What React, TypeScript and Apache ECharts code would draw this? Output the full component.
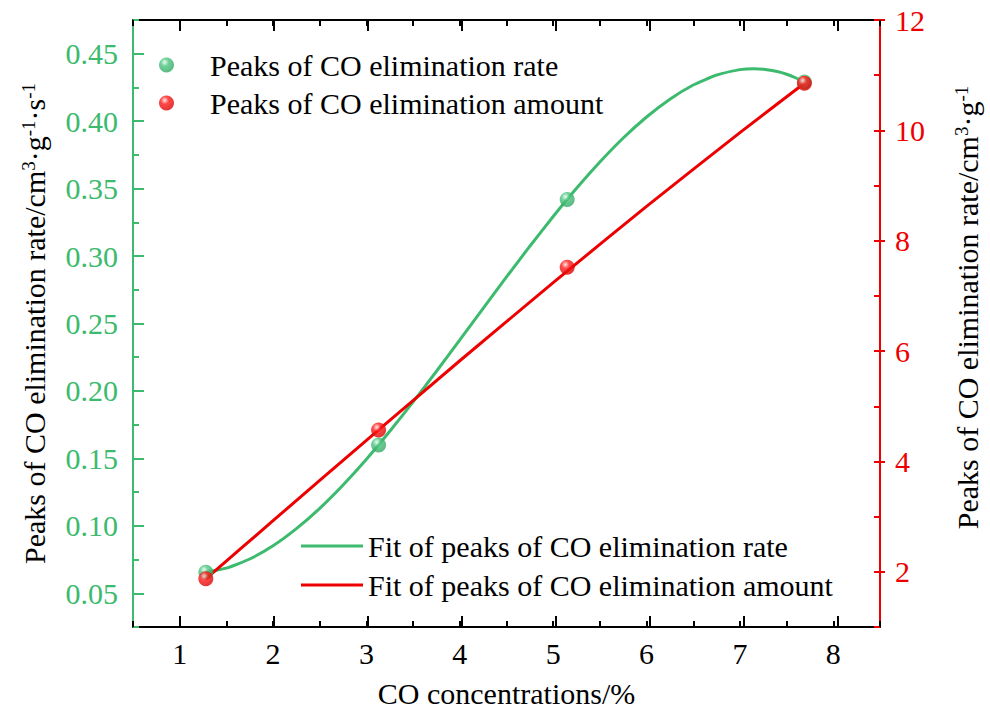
import React, { useEffect, useRef } from "react";
import * as echarts from "echarts";

// ---- data ----
const peakX = [1.28, 3.13, 5.15, 7.69];
const ratePeaks = [0.0656, 0.16, 0.342, 0.429];
const amountPeaks = [1.873, 4.572, 7.52, 10.853];

const rateFitX = [1.28, 1.5, 1.75, 2, 2.25, 2.5, 2.75, 3, 3.25, 3.5, 3.75, 4, 4.25, 4.5, 4.75, 5, 5.25, 5.5, 5.75, 6, 6.25, 6.5, 6.75, 7, 7.15, 7.25, 7.4, 7.5, 7.6, 7.69];
const rateFitY = [0.0656, 0.0686, 0.0754, 0.0852, 0.0979, 0.113, 0.1303, 0.1494, 0.1701, 0.1919, 0.2146, 0.2378, 0.2612, 0.2845, 0.3073, 0.3293, 0.3502, 0.3697, 0.3875, 0.4031, 0.4163, 0.4268, 0.4342, 0.4382, 0.4389, 0.4385, 0.4368, 0.4348, 0.432, 0.429];

const amountFitX = [1.28, 2, 3, 3.13, 4, 5, 5.15, 6, 7, 7.69];
const amountFitY = [1.873, 2.927, 4.384, 4.572, 5.825, 7.24, 7.45, 8.622, 9.96, 10.853];

const xMajor = [1, 2, 3, 4, 5, 6, 7, 8];
const leftMajor = [0.05, 0.1, 0.15, 0.2, 0.25, 0.3, 0.35, 0.4, 0.45];
const rightMajor = [2, 4, 6, 8, 10, 12];

const seriesNames = [
  "Peaks of CO elimination rate",
  "Peaks of CO elimination amount",
  "Fit of peaks of CO elimination rate",
  "Fit of peaks of CO elimination amount",
];

const GREEN = "#3cba6d";
const RED = "#ee0000";
const FONT = "Liberation Serif";

const sphere = (light: string, mid: string, dark: string) => ({
  type: "radial",
  x: 0.38,
  y: 0.32,
  r: 0.75,
  colorStops: [
    { offset: 0, color: light },
    { offset: 0.35, color: mid },
    { offset: 1, color: dark },
  ],
});

const GRID = { left: 133, right: 105, top: 20, bottom: 88, containLabel: false };

const txt = (color: string) => ({ fontFamily: FONT, fontSize: 30, lineHeight: 30, color });

export default function App() {
  const ref = useRef<HTMLDivElement>(null);
  useEffect(() => {
    if (!ref.current) return;
    const chart = echarts.init(ref.current, null, { renderer: "svg" });
    const xBase = { type: "value", min: 0.5, max: 8.5, splitLine: { show: false } };
    const tickStyle = (color: string) => ({ color, width: 2 });
    const titleRich = {
      t: txt("#000"),
      sup: { fontFamily: FONT, fontSize: 19, lineHeight: 19, verticalAlign: "top", color: "#000" },
    };
    const option: any = {
      animation: false,
      backgroundColor: "#ffffff",
      textStyle: { fontFamily: FONT },
      grid: [GRID, { ...GRID, show: false }],
      legend: [
        {
          data: [seriesNames[0], seriesNames[1]],
          orient: "vertical",
          left: 159,
          top: 50,
          padding: 0,
          itemWidth: 15,
          itemHeight: 15,
          itemGap: 8,
          icon: "circle",
          selectedMode: false,
          textStyle: { ...txt("#000"), padding: [0, 0, 0, 31] },
        },
        {
          data: [
            { name: seriesNames[2], icon: "rect" },
            { name: seriesNames[3], icon: "rect" },
          ],
          orient: "vertical",
          left: 301,
          top: 531,
          padding: 0,
          itemWidth: 62,
          itemHeight: 3,
          itemGap: 9,
          selectedMode: false,
          textStyle: txt("#000"),
        },
      ],
      xAxis: [
        {
          ...xBase,
          gridIndex: 0,
          position: "bottom",
          interval: 0.5,
          name: "CO concentrations/%",
          nameLocation: "middle",
          nameGap: 51,
          nameTextStyle: txt("#000"),
          axisLine: { show: true, onZero: false, lineStyle: { color: "#000", width: 2 } },
          axisTick: { show: true, inside: true, length: 6, lineStyle: tickStyle("#000") },
          axisLabel: { show: true, customValues: xMajor, margin: 11, ...txt("#000") },
        },
        {
          ...xBase,
          gridIndex: 0,
          position: "top",
          interval: 0.5,
          axisLine: { show: true, onZero: false, lineStyle: { color: "#000", width: 2 } },
          axisTick: { show: true, inside: true, length: 6, lineStyle: tickStyle("#000") },
          axisLabel: { show: false },
        },
        {
          ...xBase,
          gridIndex: 1,
          position: "bottom",
          axisLine: { show: false, onZero: false },
          axisTick: { show: true, inside: true, length: 11, customValues: xMajor, lineStyle: tickStyle("#000") },
          axisLabel: { show: false },
        },
        {
          ...xBase,
          gridIndex: 1,
          position: "top",
          axisLine: { show: false, onZero: false },
          axisTick: { show: true, inside: true, length: 11, customValues: xMajor, lineStyle: tickStyle("#000") },
          axisLabel: { show: false },
        },
      ],
      yAxis: [
        {
          type: "value",
          gridIndex: 0,
          position: "left",
          min: 0.025,
          max: 0.475,
          interval: 0.025,
          splitLine: { show: false },
          name: "{t|Peaks of CO elimination rate/cm}{sup|3}{t|·g}{sup|-1}{t|·s}{sup|-1}",
          nameLocation: "middle",
          nameRotate: 90,
          nameGap: 84,
          nameTextStyle: { ...txt("#000"), rich: titleRich },
          axisLine: { show: true, onZero: false, lineStyle: { color: GREEN, width: 2 } },
          axisTick: { show: true, inside: true, length: 6, lineStyle: tickStyle(GREEN) },
          axisLabel: {
            show: true,
            customValues: leftMajor,
            margin: 15,
            ...txt(GREEN),
            formatter: (v: number) => v.toFixed(2),
          },
        },
        {
          type: "value",
          gridIndex: 0,
          position: "right",
          min: 1,
          max: 12,
          interval: 1,
          splitLine: { show: false },
          name: "{t|Peaks of CO elimination rate/cm}{sup|3}{t|·g}{sup|-1}",
          nameLocation: "middle",
          nameRotate: 90,
          nameGap: 72,
          nameTextStyle: { ...txt("#000"), padding: [0, 0, 0, 32], rich: titleRich },
          axisLine: { show: true, onZero: false, lineStyle: { color: RED, width: 2 } },
          axisTick: { show: true, inside: true, length: 6, lineStyle: tickStyle(RED) },
          axisLabel: { show: true, customValues: rightMajor, margin: 15, ...txt(RED) },
        },
        {
          type: "value",
          gridIndex: 1,
          position: "left",
          min: 0.025,
          max: 0.475,
          splitLine: { show: false },
          axisLine: { show: false, onZero: false },
          axisTick: { show: true, inside: true, length: 11, customValues: leftMajor, lineStyle: tickStyle(GREEN) },
          axisLabel: { show: false },
        },
        {
          type: "value",
          gridIndex: 1,
          position: "right",
          min: 1,
          max: 12,
          splitLine: { show: false },
          axisLine: { show: false, onZero: false },
          axisTick: { show: true, inside: true, length: 11, customValues: rightMajor, lineStyle: tickStyle(RED) },
          axisLabel: { show: false },
        },
      ],
      series: [
        {
          name: seriesNames[2],
          type: "line",
          xAxisIndex: 0,
          yAxisIndex: 0,
          symbol: "none",
          smooth: 0.15,
          lineStyle: { color: GREEN, width: 3 },
          itemStyle: { color: GREEN },
          data: rateFitX.map((x, i) => [x, rateFitY[i]]),
          z: 2,
        },
        {
          name: seriesNames[3],
          type: "line",
          xAxisIndex: 0,
          yAxisIndex: 1,
          symbol: "none",
          smooth: 0.2,
          lineStyle: { color: RED, width: 3 },
          itemStyle: { color: RED },
          data: amountFitX.map((x, i) => [x, amountFitY[i]]),
          z: 2,
        },
        {
          name: seriesNames[0],
          type: "scatter",
          xAxisIndex: 0,
          yAxisIndex: 0,
          symbol: "circle",
          symbolSize: 15,
          itemStyle: { color: sphere("#e6fbee", "#4cc47f", "#2fa35e") },
          data: peakX.map((x, i) => [x, ratePeaks[i]]),
          z: 3,
        },
        {
          name: seriesNames[1],
          type: "scatter",
          xAxisIndex: 0,
          yAxisIndex: 1,
          symbol: "circle",
          symbolSize: 15,
          itemStyle: { color: sphere("#ffe0e0", "#ff1a1a", "#d40000") },
          data: peakX.map((x, i) => [x, amountPeaks[i]]),
          z: 4,
        },
      ],
    };
    chart.setOption(option);
    return () => chart.dispose();
  }, []);
  return <div ref={ref} style={{ width: 990, height: 715, position: "absolute", left: 0, top: 0 }} />;
}
